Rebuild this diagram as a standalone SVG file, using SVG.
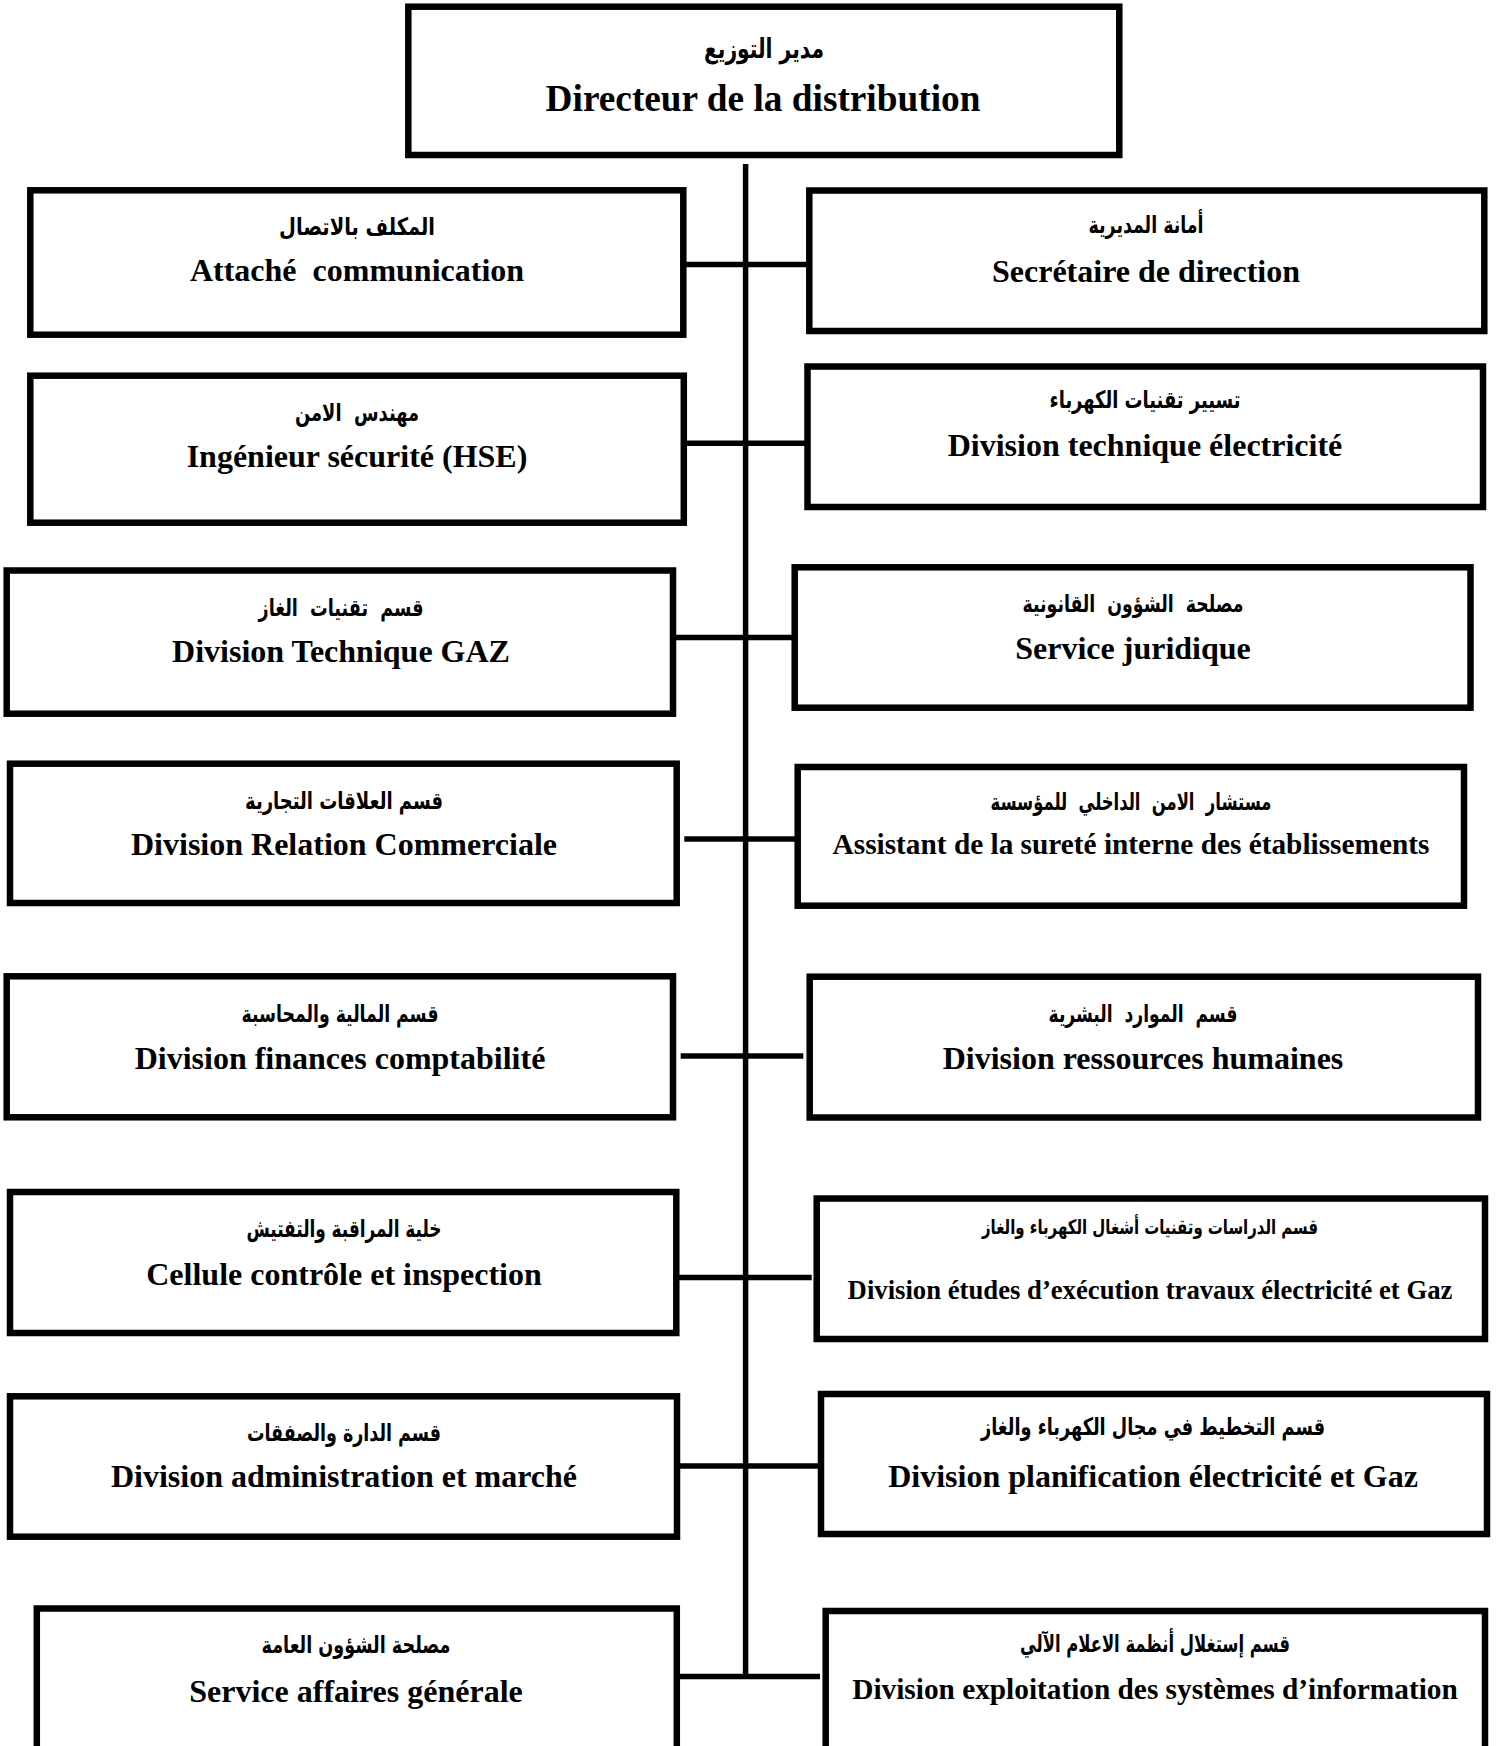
<svg xmlns="http://www.w3.org/2000/svg" width="1498" height="1746" viewBox="0 0 1498 1746" xml:space="preserve">
<style>
.box{fill:#fff;stroke:#000;stroke-width:6.5}
.fr{font-family:'Liberation Serif','Times New Roman',serif;font-weight:bold;fill:#000;text-anchor:middle;white-space:pre}
.ar{font-family:'DejaVu Sans',sans-serif;font-weight:bold;fill:#000;text-anchor:middle;direction:rtl;white-space:pre}
.ln{stroke:#000;stroke-width:5.5;fill:none}
</style>
<rect width="1498" height="1746" fill="#fff"/>
<g id="connectors">
<line class="ln" x1="745.6" y1="164" x2="745.6" y2="1678"/>
<line class="ln" x1="684" y1="264.5" x2="807" y2="264.5"/>
<line class="ln" x1="684" y1="443.3" x2="806" y2="443.3"/>
<line class="ln" x1="670" y1="637.5" x2="793" y2="637.5"/>
<line class="ln" x1="684.3" y1="839" x2="806.7" y2="839"/>
<line class="ln" x1="680.7" y1="1056" x2="803.3" y2="1056"/>
<line class="ln" x1="677" y1="1277.5" x2="811.7" y2="1277.5"/>
<line class="ln" x1="677" y1="1466" x2="818" y2="1466"/>
<line class="ln" x1="677" y1="1676.5" x2="820" y2="1676.5"/>
</g>
<g id="director">
<rect class="box" x="408.3" y="6.7" width="711" height="148.3"/>
<text class="ar" x="764" y="58" style="font-size:27px" textLength="120" lengthAdjust="spacingAndGlyphs">مدير التوزيع</text>
<text class="fr" x="763" y="111" style="font-size:37.3px">Directeur de la distribution</text>
</g>
<g id="attache">
<rect class="box" x="30.3" y="190.3" width="653" height="144.4"/>
<text class="ar" x="357" y="235" style="font-size:24px" textLength="156" lengthAdjust="spacingAndGlyphs">المكلف بالاتصال</text>
<text class="fr" x="357" y="281" style="font-size:32px">Attaché  communication</text>
</g>
<g id="ingenieur">
<rect class="box" x="30.3" y="375.7" width="653.5" height="147"/>
<text class="ar" x="357" y="421" style="font-size:24px" textLength="124" lengthAdjust="spacingAndGlyphs">مهندس  الامن</text>
<text class="fr" x="357" y="467" style="font-size:32px">Ingénieur sécurité (HSE)</text>
</g>
<g id="gaz">
<rect class="box" x="6.7" y="570.5" width="666.3" height="143.2"/>
<text class="ar" x="341" y="616" style="font-size:24px" textLength="165" lengthAdjust="spacingAndGlyphs">قسم  تقنيات  الغاز</text>
<text class="fr" x="341" y="662" style="font-size:32px">Division Technique GAZ</text>
</g>
<g id="commerciale">
<rect class="box" x="10" y="763.7" width="666.7" height="139.3"/>
<text class="ar" x="344" y="809" style="font-size:24px" textLength="198" lengthAdjust="spacingAndGlyphs">قسم العلاقات التجارية</text>
<text class="fr" x="344" y="855" style="font-size:32px">Division Relation Commerciale</text>
</g>
<g id="finances">
<rect class="box" x="6.7" y="976.3" width="666.3" height="141"/>
<text class="ar" x="340" y="1022" style="font-size:24px" textLength="197" lengthAdjust="spacingAndGlyphs">قسم المالية والمحاسبة</text>
<text class="fr" x="340" y="1069" style="font-size:32px">Division finances comptabilité</text>
</g>
<g id="cellule">
<rect class="box" x="10" y="1192" width="666.3" height="141"/>
<text class="ar" x="344" y="1237" style="font-size:24px" textLength="195" lengthAdjust="spacingAndGlyphs">خلية المراقبة والتفتيش</text>
<text class="fr" x="344" y="1285" style="font-size:32px">Cellule contrôle et inspection</text>
</g>
<g id="administration">
<rect class="box" x="10" y="1396.3" width="667" height="140.4"/>
<text class="ar" x="344" y="1441" style="font-size:24px" textLength="194" lengthAdjust="spacingAndGlyphs">قسم الدارة والصفقات</text>
<text class="fr" x="344" y="1487" style="font-size:32px">Division administration et marché</text>
</g>
<g id="affaires">
<rect class="box" x="36.8" y="1608.5" width="640" height="170"/>
<text class="ar" x="356" y="1653" style="font-size:24px" textLength="189" lengthAdjust="spacingAndGlyphs">مصلحة الشؤون العامة</text>
<text class="fr" x="356" y="1702" style="font-size:32px">Service affaires générale</text>
</g>
<g id="secretaire">
<rect class="box" x="809.3" y="190.5" width="675" height="140.5"/>
<text class="ar" x="1146" y="233" style="font-size:24px" textLength="115" lengthAdjust="spacingAndGlyphs">أمانة المديرية</text>
<text class="fr" x="1146" y="282" style="font-size:32px">Secrétaire de direction</text>
</g>
<g id="electricite">
<rect class="box" x="807.5" y="366.5" width="675.5" height="140.5"/>
<text class="ar" x="1145" y="408" style="font-size:24px" textLength="191" lengthAdjust="spacingAndGlyphs">تسيير تقنيات الكهرباء</text>
<text class="fr" x="1145" y="456" style="font-size:32px">Division technique électricité</text>
</g>
<g id="juridique">
<rect class="box" x="794.7" y="567.3" width="675.8" height="140.4"/>
<text class="ar" x="1133" y="612" style="font-size:24px" textLength="221" lengthAdjust="spacingAndGlyphs">مصلحة  الشؤون  القانونية</text>
<text class="fr" x="1133" y="659" style="font-size:32px">Service juridique</text>
</g>
<g id="surete">
<rect class="box" x="797.7" y="767" width="666.3" height="138.7"/>
<text class="ar" x="1131" y="810" style="font-size:24px" textLength="281" lengthAdjust="spacingAndGlyphs">مستشار  الامن  الداخلي  للمؤسسة</text>
<text class="fr" x="1131" y="854" style="font-size:29.3px">Assistant de la sureté interne des établissements</text>
</g>
<g id="rh">
<rect class="box" x="809.7" y="976.7" width="668.3" height="140.8"/>
<text class="ar" x="1143" y="1022" style="font-size:24px" textLength="189" lengthAdjust="spacingAndGlyphs">قسم  الموارد  البشرية</text>
<text class="fr" x="1143" y="1069" style="font-size:32px">Division ressources humaines</text>
</g>
<g id="etudes">
<rect class="box" x="816.7" y="1198.5" width="668.3" height="140.5"/>
<text class="ar" x="1150" y="1234" style="font-size:20px" textLength="336" lengthAdjust="spacingAndGlyphs">قسم الدراسات وتقنيات أشغال الكهرباء والغاز</text>
<text class="fr" x="1150" y="1299" style="font-size:26.7px">Division études d’exécution travaux électricité et Gaz</text>
</g>
<g id="planification">
<rect class="box" x="821" y="1394" width="666" height="140"/>
<text class="ar" x="1153" y="1435" style="font-size:24px" textLength="344" lengthAdjust="spacingAndGlyphs">قسم التخطيط في مجال الكهرباء والغاز</text>
<text class="fr" x="1153" y="1487" style="font-size:32px">Division planification électricité et Gaz</text>
</g>
<g id="exploitation">
<rect class="box" x="825.7" y="1611" width="659.3" height="170"/>
<text class="ar" x="1155" y="1652" style="font-size:24px" textLength="270" lengthAdjust="spacingAndGlyphs">قسم إستغلال أنظمة الاعلام الآلي</text>
<text class="fr" x="1155" y="1699" style="font-size:29.3px">Division exploitation des systèmes d’information</text>
</g>
</svg>
